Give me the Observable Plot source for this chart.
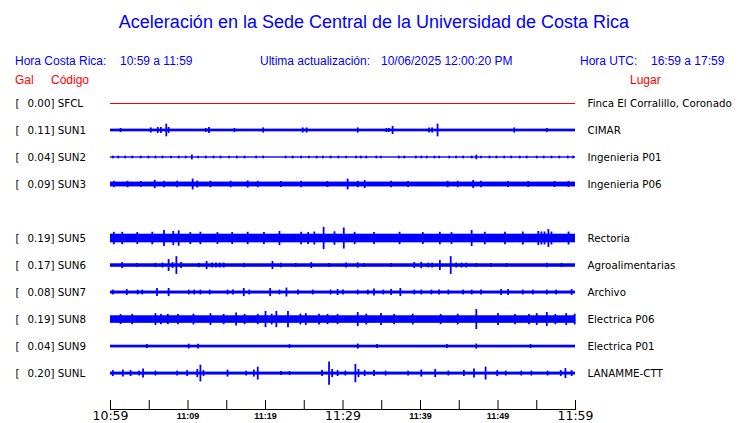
<!DOCTYPE html>
<html><head><meta charset="utf-8">
<script src="https://cdn.jsdelivr.net/npm/d3@7"></script>
<script src="https://cdn.jsdelivr.net/npm/@observablehq/plot@0.6"></script>
<style>
body{margin:0;background:#fff;}
#wrap{position:relative;width:740px;height:423px;overflow:hidden;font-family:"Liberation Sans",Arial,sans-serif;}
.t{position:absolute;white-space:pre;line-height:1;}
#chart{position:absolute;left:0;top:90px;}
</style></head><body><div id="wrap"><div id="chart"></div></div>
<script>
// ---------- data ----------
const title = "Aceleración en la Sede Central de la Universidad de Costa Rica";
const infoTexts = ["Hora Costa Rica:", "10:59 a 11:59", "Ultima actualización:", "10/06/2025 12:00:20 PM", "Hora UTC:", "16:59 a 17:59"];
const headTexts = ["Gal", "Código", "Lugar"];

const codes  = ["SFCL","SUN1","SUN2","SUN3","SUN5","SUN6","SUN7","SUN8","SUN9","SUNL"];
const slots  = [0,1,2,3,5,6,7,8,9,10];           // row order (slot 4 = SUN4, absent)
const gal    = [0.00,0.11,0.04,0.09,0.19,0.17,0.08,0.19,0.04,0.20];
const places = ["Finca El Corralillo, Coronado","CIMAR","Ingenieria P01","Ingenieria P06","Rectoria","Agroalimentarias","Archivo","Electrica P06","Electrica P01","LANAMME-CTT"];
// background noise half-amplitude of each trace (tenths of a row)
const baseAmp = [0, 0.5, 0.25, 0.9, 1.6, 0.65, 0.55, 1.4, 0.5, 0.55];

// minutes since 10:59 , half-amplitude
const burstsSUN1 = [[1.3,0.75],[5.2,0.95],[6.1,1.1],[6.5,1.1],[7.2,2.35],[7.5,1.1],[12.3,0.75],[12.7,1.1],[16.0,0.75],[19.7,0.95],[24.8,0.95],[25.3,0.95],[31.9,0.95],[35.6,0.75],[35.9,0.75],[36.4,1.5],[41.1,0.95],[41.5,0.95],[42.2,2.35],[52.1,0.95],[56.3,0.75]];
const burstsSUN2 = [[0.3,0.5],[1.0,0.5],[1.9,0.5],[2.8,0.5],[3.9,0.5],[4.9,0.5],[5.8,0.5],[6.7,0.5],[7.8,0.5],[8.8,0.5],[9.7,0.5],[10.5,0.9],[11.3,0.5],[12.3,0.5],[13.3,0.5],[14.2,0.5],[15.3,0.5],[16.3,0.5],[17.3,0.5],[18.8,0.5],[19.7,0.5],[22.6,0.5],[23.5,0.5],[24.6,0.5],[25.6,0.5],[26.6,0.5],[27.4,0.5],[28.4,0.5],[29.4,0.5],[30.4,0.5],[31.7,0.5],[32.3,0.5],[33.0,0.5],[34.3,0.5],[34.9,0.5],[37.2,0.5],[37.9,0.5],[39.4,0.5],[40.1,0.5],[40.8,0.5],[41.8,0.5],[42.4,0.5],[43.7,0.5],[44.6,0.5],[45.5,0.5],[46.6,0.5],[47.2,0.85],[47.8,0.5],[48.9,0.5],[49.8,0.5],[50.8,0.5],[51.7,0.5],[52.8,0.5],[53.7,0.5],[55.0,0.5],[55.9,0.5],[56.9,0.5],[57.9,0.5],[59.0,0.5],[59.7,0.5]];
const burstsSUN3 = [[0.43,1.2],[2.2,1.2],[3.9,1.1],[5.7,1.5],[6.9,1.2],[8.6,1.2],[10.6,2.0],[11.2,1.3],[12.9,1.2],[15.5,1.2],[17.7,1.3],[19.0,1.2],[22.0,1.1],[24.6,1.2],[28.0,1.1],[30.6,2.0],[31.9,1.2],[32.8,1.5],[36.2,1.2],[38.4,1.1],[43.5,1.2],[44.8,1.2],[46.8,1.5],[47.8,1.2],[51.3,1.1],[53.9,1.1],[57.3,1.1],[59.1,1.1]];
const burstsSUN5 = [[0.43,2.3],[1.51,2.3],[3.45,2.2],[5.39,2.3],[6.9,3.0],[8.1,2.6],[8.8,2.85],[10.3,2.2],[11.6,2.3],[13.8,2.2],[15.7,2.2],[17.7,2.3],[19.8,2.2],[21.8,2.6],[24.6,2.3],[25.5,2.2],[26.3,2.4],[27.5,4.1],[28.9,2.5],[30.1,3.9],[31.5,2.3],[34.0,2.2],[37.3,2.3],[40.3,2.2],[42.5,2.3],[44.0,2.2],[46.6,3.0],[48.3,2.3],[50.9,2.3],[53.2,2.4],[55.2,2.6],[55.6,2.4],[56.0,2.4],[56.5,3.3],[56.9,2.4],[59.1,2.4]];
const burstsSUN6 = [[1.5,1.1],[3.4,0.75],[5.8,0.8],[6.7,0.9],[7.5,2.2],[8.0,1.1],[8.5,3.3],[9.1,1.1],[11.4,0.8],[12.4,1.5],[13.1,0.9],[13.6,0.9],[14.1,0.9],[14.6,0.9],[17.2,0.8],[20.9,1.5],[22.0,0.85],[23.9,0.75],[25.9,1.1],[28.2,0.75],[30.4,0.9],[31.9,1.0],[32.7,0.75],[36.2,0.75],[39.2,1.1],[40.1,1.2],[41.0,0.9],[41.5,0.9],[42.5,1.85],[43.9,3.3],[44.6,0.9],[45.3,0.9],[45.9,0.9],[47.2,0.75],[49.1,0.75],[51.1,0.75],[56.3,0.85],[58.2,0.75]];
const burstsSUN7 = [[0.3,0.9],[2.1,1.1],[3.5,0.9],[4.1,0.9],[6.0,1.5],[7.5,1.5],[10.1,0.9],[10.8,0.9],[11.6,0.9],[12.8,0.9],[15.1,0.9],[15.8,0.9],[17.2,1.5],[17.9,0.9],[20.6,1.5],[21.8,0.9],[22.7,1.65],[24.2,0.9],[26.1,0.9],[28.4,0.9],[29.3,1.1],[30.0,0.9],[31.9,0.9],[33.2,0.9],[34.0,1.3],[35.2,0.9],[36.2,1.1],[37.4,1.5],[39.2,0.9],[40.1,0.9],[41.4,0.9],[42.4,0.9],[43.6,0.9],[45.5,0.9],[46.6,0.9],[47.8,0.9],[50.4,1.1],[51.3,1.1],[53.2,0.9],[54.5,0.9],[56.3,0.9],[57.5,0.9],[59.5,1.1]];
const burstsSUN8 = [[1.3,1.85],[2.8,1.9],[5.8,2.2],[6.5,1.9],[7.4,1.9],[8.7,1.9],[10.7,2.0],[12.9,2.2],[14.6,1.9],[16.2,2.4],[17.3,1.9],[19.0,1.9],[20.0,3.0],[20.8,2.0],[21.4,3.0],[22.9,3.0],[24.5,2.0],[25.2,2.2],[26.9,2.0],[28.0,1.9],[29.3,1.9],[31.9,2.6],[33.0,2.0],[34.9,2.2],[36.6,1.9],[39.0,2.0],[42.6,1.9],[44.8,2.0],[47.2,3.7],[50.0,2.2],[52.2,1.9],[54.0,1.9],[55.0,2.2],[56.3,2.6],[57.4,1.9],[58.8,2.2],[59.9,2.0]];
const burstsSUN9 = [[4.7,0.75],[10.1,0.9],[11.3,0.9],[23.1,0.7],[31.9,0.95],[34.4,0.75],[43.4,0.75],[47.2,0.95],[54.2,0.75]];
const burstsSUNL = [[0.3,1.1],[1.6,1.3],[2.6,1.1],[3.7,0.9],[4.2,1.65],[5.8,0.9],[8.6,0.9],[9.9,1.1],[11.2,1.5],[11.6,3.1],[12.0,1.1],[15.1,1.3],[17.5,0.9],[18.5,1.3],[19.0,2.4],[22.0,0.75],[23.1,0.75],[27.3,1.1],[28.2,4.3],[28.6,1.5],[29.3,1.1],[30.3,0.9],[31.6,3.4],[32.0,1.5],[32.8,1.1],[34.0,1.1],[35.5,0.9],[38.4,0.9],[40.1,1.3],[41.9,1.5],[43.6,0.9],[45.6,1.1],[46.9,1.65],[48.4,2.4],[49.9,1.1],[51.0,0.9],[53.0,0.9],[54.3,0.9],[56.4,0.9],[58.1,1.1],[58.7,1.85],[59.5,1.1]];

const timeDomain = [0, 60];
const tickMinutes = [0,5,10,15,20,25,30,35,40,45,50,55,60];
const labelMinutes = [0,10,20,30,40,50,60];
const tickLabels = ["10:59","11:09","11:19","11:29","11:39","11:49","11:59"];
const bigLabelMinutes = [0,30,60];

// ---------- build ----------
const ROW = 10;
const burstSets = [[], burstsSUN1, burstsSUN2, burstsSUN3, burstsSUN5, burstsSUN6, burstsSUN7, burstsSUN8, burstsSUN9, burstsSUNL];
const stations = codes.map((code, i) => ({code, slot: slots[i], gal: gal[i], place: places[i], base: baseAmp[i], bursts: burstSets[i]}));
const traces = stations.filter(s => s.base > 0);
const flat = stations.filter(s => s.base === 0);
const burstRows = stations.flatMap(s => s.bursts.map(([t, a]) => ({t, y: s.slot * ROW, a})));
const labelOf = m => tickLabels[labelMinutes.indexOf(m)];
const smallLabelMinutes = labelMinutes.filter(m => !bigLabelMinutes.includes(m));

const wrap = document.getElementById("wrap");
function addText(txt, css) {
  const d = document.createElement("div");
  d.className = "t"; d.textContent = txt; d.style.cssText += css;
  wrap.appendChild(d);
}
addText(title, "left:4px;width:740px;text-align:center;top:13px;font-size:18px;color:#0000ff;");
const infoCss = ["left:15px","left:120px","left:260px","left:381px","left:580px","left:651px"];
infoTexts.forEach((t, i) => addText(t, infoCss[i] + ";top:54.8px;font-size:12px;color:#0000ff;"));
const headCss = ["left:15px","left:51px","left:630px"];
headTexts.forEach((t, i) => addText(t, headCss[i] + ";top:74px;font-size:12px;color:#ff0000;"));

const blue = "#0000ff";
const plot = Plot.plot({
  width: 740, height: 333,
  marginLeft: 110, marginRight: 165, marginTop: 0, marginBottom: 14,
  style: {fontFamily: "DejaVu Sans", fontSize: "10.3px", background: "transparent", overflow: "visible"},
  x: {domain: timeDomain, axis: null, label: null},
  y: {domain: [-4.8, 113.3], reverse: true, axis: null, label: null},
  marks: [
    Plot.ruleY(flat, {y: s => s.slot * ROW, stroke: "#dd0000", strokeWidth: 1}),
    Plot.rect(traces, {x1: () => timeDomain[0], x2: () => timeDomain[1], y1: s => s.slot * ROW - s.base, y2: s => s.slot * ROW + s.base, fill: blue}),
    Plot.ruleX(burstRows, {x: "t", y1: d => d.y - d.a, y2: d => d.y + d.a, stroke: blue, strokeWidth: 1.8}),
    Plot.text(stations, {y: s => s.slot * ROW, text: () => "[", frameAnchor: "left", dx: -95, textAnchor: "start", fontSize: 10.3}),
    Plot.text(stations, {y: s => s.slot * ROW, text: s => s.gal.toFixed(2) + "] " + s.code, frameAnchor: "left", dx: -83, textAnchor: "start", fontSize: 10.3}),
    Plot.text(stations, {y: s => s.slot * ROW, text: "place", frameAnchor: "right", dx: 12, textAnchor: "start", fontSize: 10.3}),
    Plot.frame({anchor: "bottom", stroke: "black"}),
    Plot.axisX({ticks: tickMinutes, tickSize: 9, dy: -9, tickFormat: () => "", stroke: "black", label: null}),
    Plot.axisX({ticks: bigLabelMinutes, tickSize: 0, tickPadding: 2, tickFormat: labelOf, fontSize: 12.5, fontFamily: "DejaVu Sans", label: null}),
    Plot.axisX({ticks: smallLabelMinutes, tickSize: 0, tickPadding: 3, tickFormat: labelOf, fontSize: 9, fontWeight: "bold", fontFamily: "Liberation Sans", label: null})
  ]
});
document.getElementById("chart").appendChild(plot);
</script>
</body></html>
